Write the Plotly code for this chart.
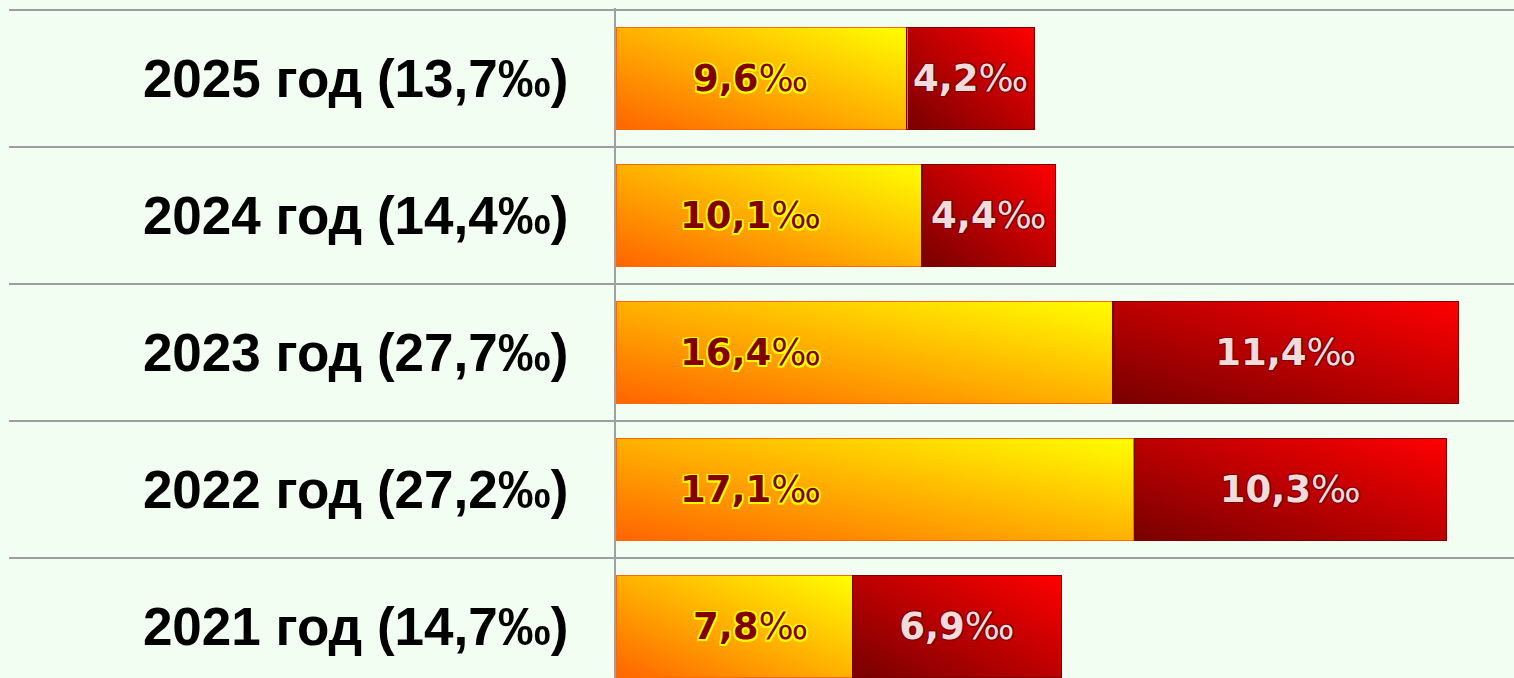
import base64
import plotly.graph_objects as go

# ---- data ----
years = ["2021", "2022", "2023", "2024", "2025"]
totals = [14.7, 27.2, 27.7, 14.4, 13.7]
part_yellow = [7.8, 17.1, 16.4, 10.1, 9.6]
part_red = [6.9, 10.3, 11.4, 4.4, 4.2]

# ---- style constants ----
BG = "#F1FEF1"
GRID = "#9E9E9E"
BAR_W = 0.745
YELLOW_LABEL_X = 4.45
Y_BOTTOM = -0.376
LABEL_SIZE = 37
ROW_PX = 137


def fmt(v):
    return f"{v:.1f}".replace(".", ",")


def grad_uri(c0, c1):
    svg = (
        '<svg xmlns="http://www.w3.org/2000/svg" width="100" height="100" '
        'viewBox="0 0 100 100" preserveAspectRatio="none"><defs>'
        '<linearGradient id="g" x1="0" y1="1" x2="1" y2="0">'
        f'<stop offset="0" stop-color="{c0}"/><stop offset="1" stop-color="{c1}"/>'
        '</linearGradient></defs><rect width="100" height="100" fill="url(#g)"/></svg>'
    )
    return "data:image/svg+xml;base64," + base64.b64encode(svg.encode()).decode()


def outline(c, r=1.5):
    offs = [(r, 0), (-r, 0), (0, r), (0, -r), (r, r), (-r, -r), (r, -r), (-r, r)]
    return ", ".join(f"{dx}px {dy}px 0 {c}" for dx, dy in offs)


YEL_IMG = grad_uri("#FF6400", "#FFFF00")
RED_IMG = grad_uri("#780000", "#FF0000")

ypos = list(range(len(years)))
tick_text = [f"<b>{y} год ({fmt(t)}‰)</b>" for y, t in zip(years, totals)]

fig = go.Figure()
fig.add_trace(go.Bar(
    orientation="h", y=ypos, x=part_yellow, width=BAR_W,
    marker=dict(color="rgba(0,0,0,0)", line=dict(color="#FF6A00", width=1.5)),
    hoverinfo="skip", showlegend=False,
))
fig.add_trace(go.Bar(
    orientation="h", y=ypos, x=part_red, width=BAR_W,
    marker=dict(color="rgba(0,0,0,0)", line=dict(color="#7A0000", width=1.2)),
    text=[f"<b>{fmt(v)}</b>‰" for v in part_red],
    textposition="inside", insidetextanchor="middle", constraintext="none",
    textfont=dict(family="DejaVu Sans", size=LABEL_SIZE, color="#F2DCDB",
                  shadow=outline("#800000", 1.2)),
    hoverinfo="skip", showlegend=False,
))

images = []
for i, (a, b) in enumerate(zip(part_yellow, part_red)):
    images.append(dict(source=YEL_IMG, xref="x", yref="y", x=0, y=ypos[i] + BAR_W / 2,
                       sizex=a, sizey=BAR_W, xanchor="left", yanchor="top",
                       sizing="stretch", layer="below"))
    images.append(dict(source=RED_IMG, xref="x", yref="y", x=a, y=ypos[i] + BAR_W / 2,
                       sizex=b, sizey=BAR_W, xanchor="left", yanchor="top",
                       sizing="stretch", layer="below"))

annotations = [
    dict(x=YELLOW_LABEL_X, y=ypos[i], xref="x", yref="y", showarrow=False,
         text=f"<b>{fmt(v)}</b>‰", xanchor="center", yanchor="middle",
         font=dict(family="DejaVu Sans", size=LABEL_SIZE, color="#800000",
                   shadow=outline("#FFFF00", 1.5)))
    for i, v in enumerate(part_yellow)
]

L = 616
W = 1514
H = 678
TOP = 8
left_paper = -(L - 9) / (W - L)
shapes = [
    dict(type="line", xref="paper", yref="y", x0=left_paper, x1=1,
         y0=k + 0.5, y1=k + 0.5, line=dict(color=GRID, width=2), layer="below")
    for k in range(len(years))
]

fig.update_layout(
    barmode="stack",
    width=W, height=H,
    margin=dict(l=L, r=0, t=TOP, b=0),
    paper_bgcolor=BG, plot_bgcolor=BG,
    images=images, annotations=annotations, shapes=shapes,
    xaxis=dict(range=[0, (W - L) / 30.3], showgrid=False, zeroline=False,
               showticklabels=False, ticks=""),
    yaxis=dict(range=[Y_BOTTOM, len(years) - 0.5 + 2 / ROW_PX], tickvals=ypos,
               ticktext=tick_text,
               showgrid=False, zeroline=False, ticks="", ticklabelstandoff=35,
               showline=True, linecolor="#A0A0A0", linewidth=2,
               tickfont=dict(family="Liberation Sans, Arial, sans-serif", size=53,
                             color="#000000")),
)

page_css = (
    "document.body.style.margin='0';"
    "document.body.style.overflow='hidden';"
    f"document.body.style.background='{BG}';"
)
fig.write_html("out.html", post_script=page_css, config={"displayModeBar": False})
